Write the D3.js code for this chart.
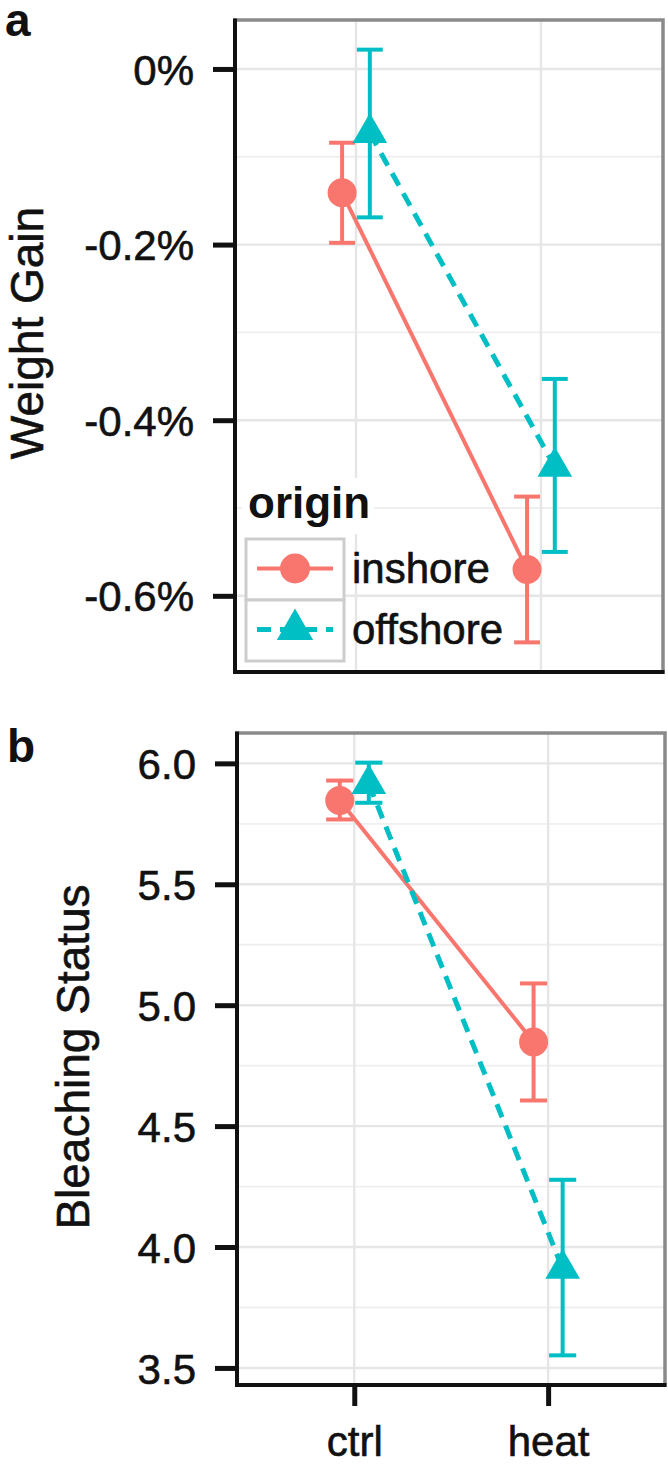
<!DOCTYPE html>
<html>
<head>
<meta charset="utf-8">
<script src="https://cdn.jsdelivr.net/npm/d3@7"></script>
<style>
  html, body { margin: 0; padding: 0; background: #fff; }
  svg { display: block; font-family: "Liberation Sans", Arial, Helvetica, sans-serif; }
  .heavy { stroke: #111; stroke-width: 0.6px; }
</style>
</head>
<body>
<svg id="chart" width="668" height="1464"></svg>
<script>
// ---------- data ----------
const categories = ["ctrl", "heat"];
const origins = ["inshore", "offshore"];

// Panel a: Weight Gain (%)
const weightInshore      = [-0.141, -0.570];
const weightInshoreLo    = [-0.198, -0.653];
const weightInshoreHi    = [-0.084, -0.487];
const weightOffshore     = [-0.073, -0.453];
const weightOffshoreLo   = [-0.169, -0.550];
const weightOffshoreHi   = [ 0.022, -0.353];
const weightTicks        = [0, -0.2, -0.4, -0.6];
const weightTickLabels   = ["0%", "-0.2%", "-0.4%", "-0.6%"];

// Panel b: Bleaching Status
const bleachInshore      = [5.846, 4.848];
const bleachInshoreLo    = [5.768, 4.606];
const bleachInshoreHi    = [5.929, 5.090];
const bleachOffshore     = [5.915, 3.910];
const bleachOffshoreLo   = [5.837, 3.552];
const bleachOffshoreHi   = [6.003, 4.278];
const bleachTicks        = [6.0, 5.5, 5.0, 4.5, 4.0, 3.5];
const bleachTickLabels   = ["6.0", "5.5", "5.0", "4.5", "4.0", "3.5"];

// ---------- styling ----------
const colors = { inshore: "#F8766D", offshore: "#00BFC4" };
const dashes = { inshore: null, offshore: "14,9" };
const shapes = { inshore: "circle", offshore: "triangle" };
const dodge = 0.075;
const capHalf = 0.07;

const svg = d3.select("#chart");

function triPath(cx, cy, r) {
  const h = r * Math.sqrt(3) / 2;
  return `M${cx},${cy - r}L${cx + h},${cy + r / 2}L${cx - h},${cy + r / 2}Z`;
}

function drawPanel(opt) {
  const g = svg.append("g");
  const x = d3.scaleLinear().domain(opt.xDomain).range([opt.left, opt.right]);
  const lo = d3.min(opt.series, s => d3.min(s.lo));
  const hi = d3.max(opt.series, s => d3.max(s.hi));
  const pad = (hi - lo) * 0.05;
  const y = d3.scaleLinear().domain([lo - pad, hi + pad]).range([opt.bottom, opt.top]);

  g.append("rect").attr("x", opt.left).attr("y", opt.top)
    .attr("width", opt.right - opt.left).attr("height", opt.bottom - opt.top)
    .attr("fill", "#fff");

  // minor grid (midpoints between majors)
  const step = Math.abs(opt.ticks[0] - opt.ticks[1]);
  const tMin = d3.min(opt.ticks), tMax = d3.max(opt.ticks);
  const minor = [];
  for (let v = tMin - step / 2; v <= tMax + step / 2 + 1e-9; v += step) {
    const [d0, d1] = y.domain();
    if (v > d0 && v < d1) minor.push(v);
  }
  g.selectAll(".minor").data(minor).join("line")
    .attr("x1", opt.left).attr("x2", opt.right)
    .attr("y1", d => y(d)).attr("y2", d => y(d))
    .attr("stroke", "#efefef").attr("stroke-width", 1.8);
  g.selectAll(".major").data(opt.ticks).join("line")
    .attr("x1", opt.left).attr("x2", opt.right)
    .attr("y1", d => y(d)).attr("y2", d => y(d))
    .attr("stroke", "#e6e6e6").attr("stroke-width", 2.4);
  g.selectAll(".vgrid").data(categories).join("line")
    .attr("x1", (d, i) => x(i + 1)).attr("x2", (d, i) => x(i + 1))
    .attr("y1", opt.top).attr("y2", opt.bottom)
    .attr("stroke", "#e6e6e6").attr("stroke-width", 2.4);

  g.append("rect").attr("x", opt.left).attr("y", opt.top)
    .attr("width", opt.right - opt.left).attr("height", opt.bottom - opt.top)
    .attr("fill", "none").attr("stroke", "#8a8a8a").attr("stroke-width", 3.5);

  if (opt.legend) drawLegend(g);

  opt.series.forEach((s, si) => {
    const off = si === 0 ? -dodge : dodge;
    const col = colors[s.name];
    const pts = categories.map((c, i) => ({ xv: i + 1 + off, m: s.mean[i], l: s.lo[i], h: s.hi[i] }));
    const eb = g.append("g");
    pts.forEach(p => {
      eb.append("line").attr("x1", x(p.xv)).attr("x2", x(p.xv))
        .attr("y1", y(p.l)).attr("y2", y(p.h)).attr("stroke", col).attr("stroke-width", 4);
      [p.l, p.h].forEach(v => {
        eb.append("line").attr("x1", x(p.xv - capHalf)).attr("x2", x(p.xv + capHalf))
          .attr("y1", y(v)).attr("y2", y(v)).attr("stroke", col).attr("stroke-width", 4);
      });
    });
    const line = d3.line().x(p => x(p.xv)).y(p => y(p.m));
    g.append("path").datum(pts).attr("d", line).attr("fill", "none")
      .attr("stroke", col).attr("stroke-width", s.name === "inshore" ? 4 : 5)
      .attr("stroke-dasharray", dashes[s.name]);
    pts.forEach(p => {
      if (shapes[s.name] === "circle") {
        g.append("circle").attr("cx", x(p.xv)).attr("cy", y(p.m)).attr("r", 14.5).attr("fill", col);
      } else {
        g.append("path").attr("d", triPath(x(p.xv), y(p.m), 20)).attr("fill", col);
      }
    });
  });

  g.append("line").attr("x1", opt.left).attr("x2", opt.left)
    .attr("y1", opt.top - 1.5).attr("y2", opt.bottom + 2).attr("stroke", "#111").attr("stroke-width", 4);
  g.append("line").attr("x1", opt.left - 2).attr("x2", opt.right + 1.5)
    .attr("y1", opt.bottom).attr("y2", opt.bottom).attr("stroke", "#111").attr("stroke-width", 4);

  const yAxis = d3.axisLeft(y).tickValues(opt.ticks)
    .tickFormat((d, i) => opt.tickLabels[i]).tickSize(22).tickPadding(19);
  const ya = g.append("g").attr("transform", `translate(${opt.left},0)`).call(yAxis);
  ya.select(".domain").remove();
  ya.selectAll(".tick line").attr("stroke", "#111").attr("stroke-width", 5);
  ya.selectAll(".tick text").attr("font-size", 42).attr("fill", "#111").attr("class", "heavy")
    .attr("font-family", "'Liberation Sans', Arial, sans-serif").attr("dy", "0.36em");

  const xAxis = d3.axisBottom(x).tickValues([1, 2])
    .tickFormat((d, i) => opt.showXLabels ? categories[i] : "").tickSize(opt.showXLabels ? 21 : 0).tickPadding(20);
  const xa = g.append("g").attr("transform", `translate(0,${opt.bottom})`).call(xAxis);
  xa.select(".domain").remove();
  xa.selectAll(".tick line").attr("stroke", "#111").attr("stroke-width", 5);
  xa.selectAll(".tick text").attr("font-size", 42).attr("fill", "#111").attr("class", "heavy")
    .attr("font-family", "'Liberation Sans', Arial, sans-serif");

  svg.append("text").attr("transform", `translate(${opt.titleX},${opt.titleY}) rotate(-90)`)
    .attr("text-anchor", "middle").attr("font-size", 46).attr("fill", "#111").attr("class", "heavy")
    .text(opt.title);

  svg.append("text").attr("x", opt.letterX).attr("y", opt.letterY)
    .attr("font-size", 46).attr("font-weight", "bold").attr("fill", "#111").text(opt.letter);
}

function drawLegend(g) {
  g.append("rect").attr("x", 242).attr("y", 478).attr("width", 132).attr("height", 56).attr("fill", "#fff");
  g.append("text").attr("x", 248).attr("y", 518).attr("font-size", 44).attr("font-weight", "bold")
    .attr("fill", "#111").text("origin");
  const keyX = 246, keyW = 98, keyH = 61, keyY0 = 539;
  origins.forEach((o, i) => {
    const ky = keyY0 + i * keyH;
    g.append("rect").attr("x", keyX).attr("y", ky).attr("width", keyW).attr("height", keyH)
      .attr("fill", "#fff").attr("stroke", "#cdcdcd").attr("stroke-width", 3);
    const cy = ky + keyH / 2 - 1;
    g.append("line").attr("x1", keyX + 11).attr("x2", keyX + keyW - 11)
      .attr("y1", cy).attr("y2", cy).attr("stroke", colors[o])
      .attr("stroke-width", o === "inshore" ? 4 : 5)
      .attr("stroke-dasharray", o === "offshore" ? "14,9" : null);
    if (shapes[o] === "circle") {
      g.append("circle").attr("cx", keyX + keyW / 2).attr("cy", cy).attr("r", 15).attr("fill", colors[o]);
    } else {
      g.append("path").attr("d", triPath(keyX + keyW / 2, cy, 21)).attr("fill", colors[o]);
    }
    g.append("text").attr("x", 352).attr("y", ky + 44).attr("font-size", 42).attr("fill", "#111")
      .attr("class", "heavy").text(o);
  });
}

drawPanel({
  letter: "a", letterX: 5, letterY: 36,
  title: "Weight Gain", titleX: 43, titleY: 333,
  left: 235, right: 663, top: 20, bottom: 672,
  xDomain: [0.346, 2.66],
  ticks: weightTicks, tickLabels: weightTickLabels,
  series: [
    { name: "inshore", mean: weightInshore, lo: weightInshoreLo, hi: weightInshoreHi },
    { name: "offshore", mean: weightOffshore, lo: weightOffshoreLo, hi: weightOffshoreHi }
  ],
  legend: true, showXLabels: false
});

drawPanel({
  letter: "b", letterX: 7, letterY: 762,
  title: "Bleaching Status", titleX: 89, titleY: 1057,
  left: 237, right: 665, top: 733, bottom: 1385,
  xDomain: [0.395, 2.603],
  ticks: bleachTicks, tickLabels: bleachTickLabels,
  series: [
    { name: "inshore", mean: bleachInshore, lo: bleachInshoreLo, hi: bleachInshoreHi },
    { name: "offshore", mean: bleachOffshore, lo: bleachOffshoreLo, hi: bleachOffshoreHi }
  ],
  legend: false, showXLabels: true
});
</script>
</body>
</html>
